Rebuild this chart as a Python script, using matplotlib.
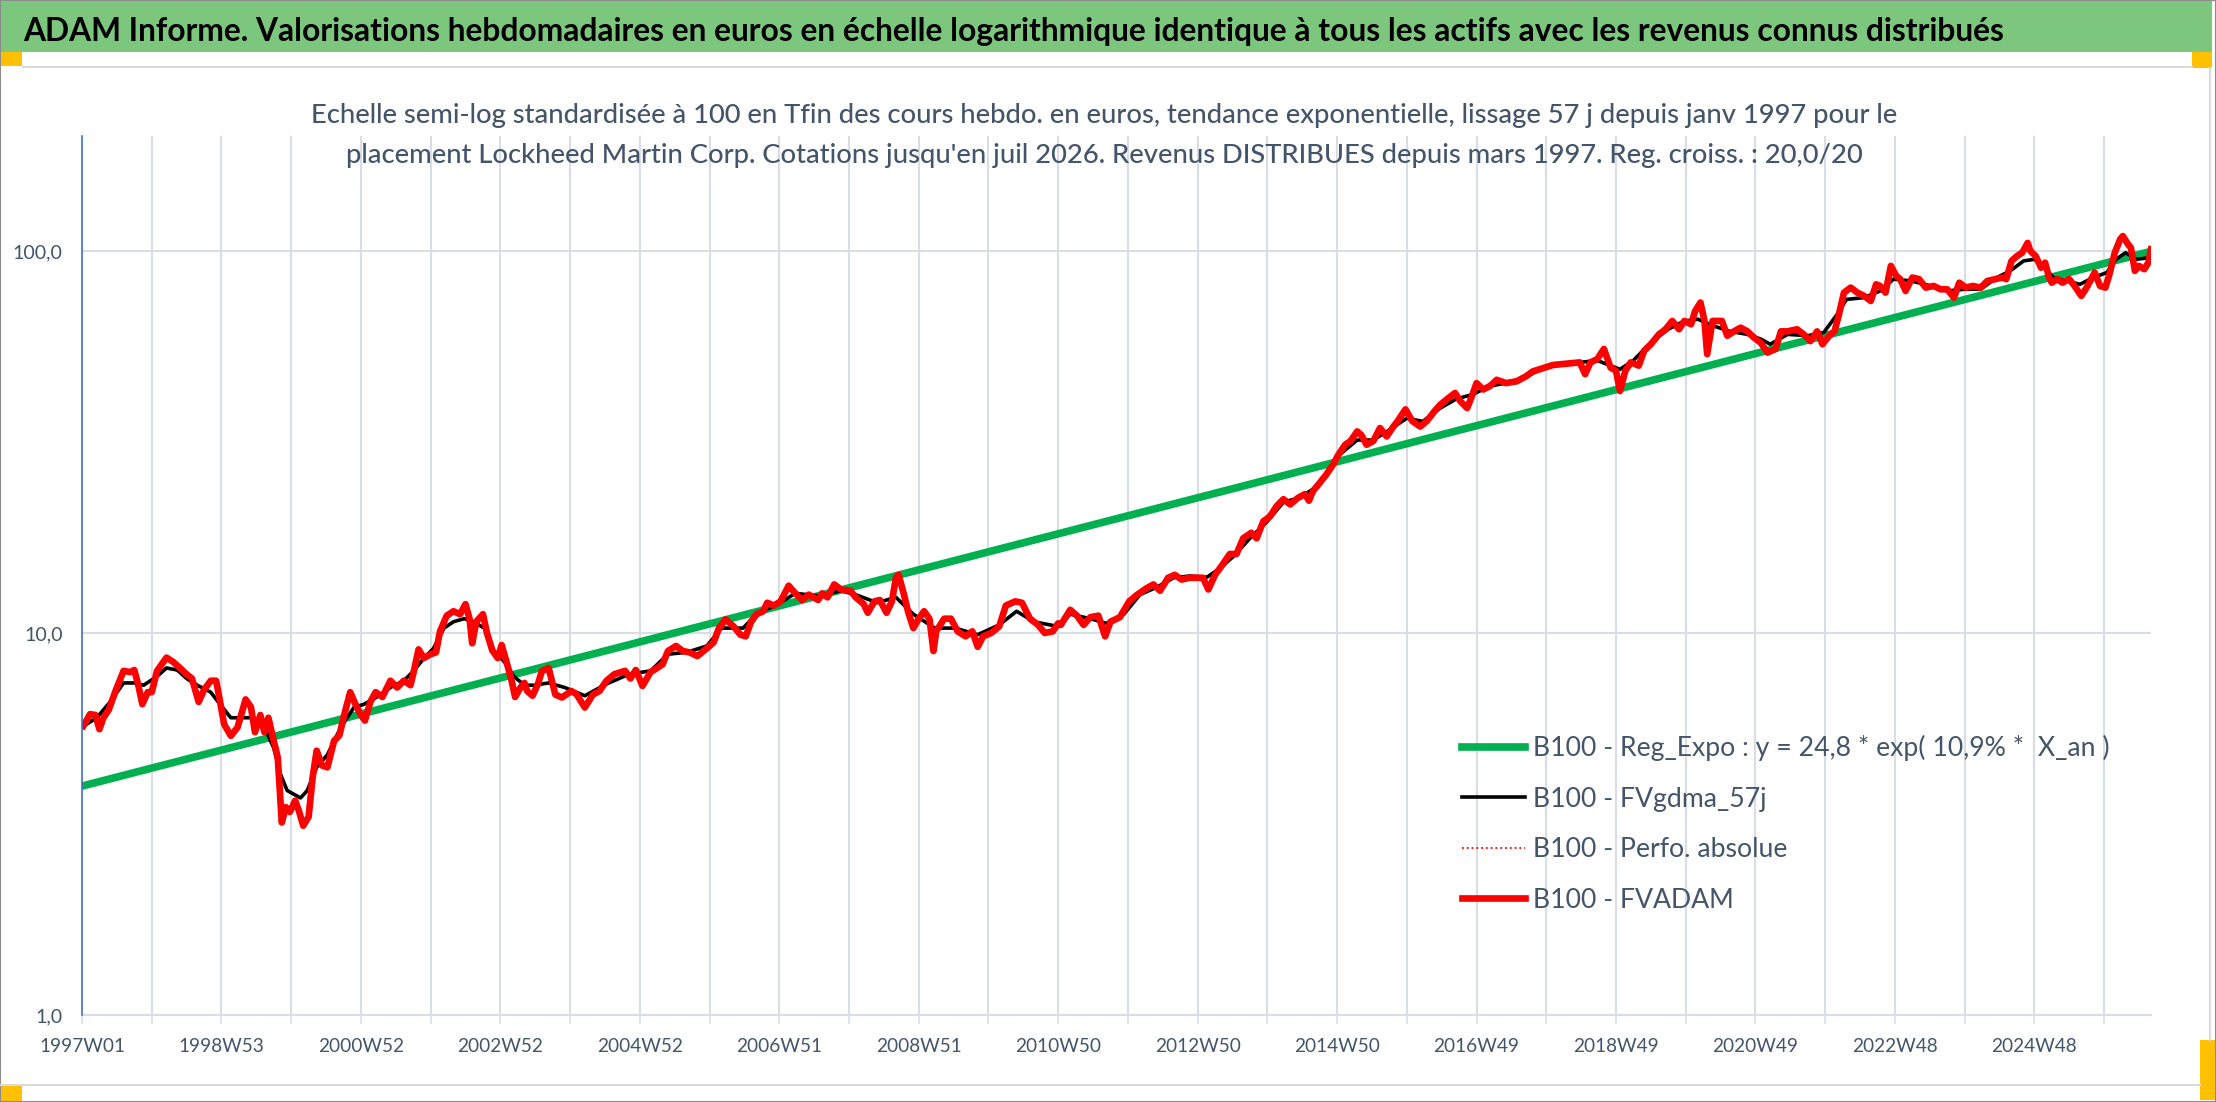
import numpy as np
import matplotlib
matplotlib.use("Agg")
import matplotlib.pyplot as plt
from matplotlib import font_manager
from matplotlib.patches import Rectangle
from matplotlib.lines import Line2D
from matplotlib.ticker import NullLocator

W, H = 2216, 1102

# values: week index from 1997W01, base 100 at the end
red_weeks = [1, 6, 10, 13, 16, 20, 25, 31, 36, 39, 42, 45, 49, 52, 56, 63, 68, 73, 78, 82,
             87, 91, 96, 100, 102, 106, 111, 116, 122, 126, 129, 133, 136, 139, 142, 146, 149, 152, 155, 159,
             162, 165, 169, 172, 175, 179, 183, 188, 192, 195, 200, 204, 208, 211, 215, 219, 224, 230, 235, 240,
             245, 248, 251, 255, 260, 264, 267, 272, 277, 282, 286, 289, 291, 294, 299, 302, 306, 310, 313, 317,
             320, 323, 327, 330, 332, 336, 340, 343, 348, 353, 358, 365, 369, 375, 381, 386, 391, 397, 405, 409,
             413, 418, 424, 429, 433, 437, 443, 448, 453, 459, 465, 471, 475, 480, 486, 491, 495, 499, 503, 508,
             511, 516, 521, 527, 532, 537, 542, 549, 552, 556, 561, 566, 573, 577, 583, 586, 591, 595, 600, 604,
             607, 609, 613, 616, 620, 624, 628, 632, 635, 637, 643, 648, 653, 659, 664, 668, 672, 678, 684, 689,
             696, 701, 707, 713, 718, 724, 728, 730, 737, 742, 747, 752, 758, 763, 767, 774, 781, 787, 794, 799,
             804, 810, 815, 820, 826, 832, 836, 840, 845, 850, 856, 861, 866, 872, 876, 881, 886, 891, 896, 901,
             907, 912, 915, 918, 923, 928, 933, 937, 942, 946, 951, 954, 958, 963, 968, 973, 978, 981, 987, 992,
             998, 1003, 1009, 1013, 1019, 1024, 1028, 1033, 1036, 1040, 1045, 1050, 1055, 1062, 1070, 1077, 1082, 1090, 1097, 1117,
             1121, 1125, 1130, 1135, 1140, 1144, 1147, 1151, 1155, 1161, 1165, 1170, 1176, 1181, 1186, 1191, 1195, 1200, 1203, 1207,
             1210, 1212, 1216, 1220, 1223, 1227, 1232, 1237, 1242, 1247, 1252, 1257, 1263, 1267, 1272, 1279, 1284, 1289, 1294, 1298,
             1303, 1307, 1310, 1314, 1319, 1324, 1329, 1334, 1338, 1341, 1345, 1349, 1353, 1356, 1360, 1365, 1370, 1375, 1381, 1386,
             1391, 1396, 1400, 1405, 1410, 1416, 1421, 1427, 1432, 1435, 1439, 1443, 1447, 1451, 1453, 1457, 1461, 1464, 1467, 1469,
             1473, 1477, 1482, 1486, 1491, 1495, 1501, 1505, 1509, 1512, 1516, 1520, 1522, 1526, 1528, 1531, 1534, 1538, 1541, 1543]
red_vals = [5.71, 6.13, 6.1, 5.6, 6.0, 6.3, 7.05, 7.96, 7.9, 8.0, 7.3, 6.51, 7.0, 7.0, 7.96, 8.62, 8.4, 8.1, 7.8, 7.6,
            6.6, 7.1, 7.5, 7.5, 6.9, 5.77, 5.38, 5.66, 6.7, 6.4, 5.5, 6.1, 5.5, 6.0, 5.4, 4.72, 3.19, 3.5, 3.4, 3.64,
            3.4, 3.13, 3.3, 4.19, 4.92, 4.5, 4.45, 5.22, 5.4, 6.0, 7.0, 6.5, 6.1, 5.9, 6.6, 7.0, 6.8, 7.5, 7.2, 7.5,
            7.3, 8.1, 9.06, 8.6, 8.8, 8.9, 10.1, 11.1, 11.4, 11.2, 11.9, 10.9, 9.4, 10.7, 11.2, 10.0, 9.0, 8.6, 9.3, 8.3,
            7.6, 6.8, 7.2, 7.4, 7.05, 6.85, 7.35, 7.95, 8.1, 6.9, 6.78, 7.05, 6.9, 6.38, 6.9, 7.05, 7.49, 7.8, 7.96, 7.6,
            8.0, 7.27, 7.9, 8.1, 8.28, 8.97, 9.25, 8.97, 8.9, 8.7, 9.06, 9.44, 10.3, 10.85, 10.4, 9.9, 9.8, 10.7, 11.2, 11.4,
            12.0, 11.8, 12.1, 13.3, 12.7, 12.2, 12.6, 12.2, 12.7, 12.4, 13.4, 13.0, 12.9, 12.4, 11.9, 11.3, 12.1, 12.2, 11.3, 12.1,
            13.95, 14.2, 12.6, 11.4, 10.3, 10.9, 11.4, 10.9, 8.97, 10.1, 10.9, 10.9, 10.1, 9.8, 10.1, 9.2, 9.8, 10.0, 10.4, 11.8,
            12.1, 12.0, 10.9, 10.5, 10.0, 10.1, 10.6, 10.5, 11.5, 11.1, 10.5, 11.0, 11.1, 9.8, 10.7, 11.0, 12.1, 12.6, 13.1, 13.4,
            12.9, 13.95, 14.2, 13.8, 13.95, 13.95, 13.95, 13.0, 14.2, 15.0, 16.1, 16.1, 17.7, 18.3, 17.7, 19.6, 20.2, 21.5, 22.4, 21.7,
            22.6, 23.1, 22.2, 23.5, 24.7, 26.0, 27.6, 29.3, 31.1, 31.8, 33.7, 33.0, 31.1, 31.8, 34.4, 32.7, 34.7, 35.8, 38.5, 35.9,
            34.7, 35.9, 38.2, 39.6, 41.2, 42.5, 40.4, 38.8, 41.2, 45.1, 43.4, 44.3, 46.0, 45.1, 45.6, 47.0, 48.4, 49.4, 50.3, 51.1,
            47.6, 51.1, 52.1, 55.4, 49.5, 48.6, 43.0, 48.6, 51.1, 50.1, 54.8, 57.0, 60.5, 62.4, 65.6, 62.4, 65.6, 64.3, 69.6, 73.3,
            65.6, 53.7, 65.6, 65.6, 65.6, 60.0, 61.6, 63.0, 61.6, 59.3, 57.5, 54.2, 55.4, 61.6, 61.6, 62.4, 60.5, 58.1, 61.6, 57.0,
            60.0, 61.6, 67.6, 77.8, 80.2, 77.8, 76.3, 74.0, 81.8, 81.0, 77.8, 91.4, 86.1, 84.4, 78.6, 85.2, 84.4, 80.2, 81.0, 79.4,
            79.4, 75.5, 82.6, 80.2, 81.0, 80.2, 83.5, 84.4, 85.2, 84.4, 94.2, 97.0, 99.0, 105.0, 100.0, 97.0, 90.4, 93.2, 85.2, 82.6,
            84.4, 82.6, 84.4, 81.0, 76.3, 80.2, 87.8, 81.0, 80.2, 86.9, 99.0, 107.3, 109.4, 104.0, 102.0, 88.7, 91.4, 89.6, 93.2, 101.0]

black_weeks = [1, 11, 21, 31, 39, 46, 56, 63, 71, 78, 86, 96, 103, 111, 118, 128, 136, 143, 148, 153,
               163, 168, 175, 183, 193, 203, 210, 220, 230, 240, 248, 255, 262, 270, 277, 285, 292, 300, 307, 315,
               322, 330, 337, 348, 360, 375, 391, 408, 424, 437, 451, 466, 477, 493, 503, 519, 532, 550, 566, 577,
               593, 607, 620, 636, 651, 668, 684, 697, 710, 728, 737, 752, 764, 777, 789, 802, 814, 826, 839, 849,
               859, 871, 884, 896, 908, 918, 928, 938, 951, 963, 975, 988, 1000, 1013, 1025, 1037, 1050, 1062, 1075, 1087,
               1097, 1117, 1130, 1140, 1147, 1157, 1170, 1183, 1195, 1205, 1217, 1229, 1242, 1252, 1259, 1272, 1287, 1299, 1309, 1316,
               1329, 1341, 1351, 1364, 1379, 1391, 1404, 1416, 1428, 1438, 1448, 1456, 1463, 1470, 1480, 1490, 1500, 1510, 1517, 1524,
               1532, 1542]
black_vals = [5.7, 6.0, 6.6, 7.4, 7.4, 7.3, 7.7, 8.1, 8.0, 7.6, 7.3, 7.0, 6.5, 6.0, 6.0, 6.0, 5.66, 5.0, 4.27, 3.87,
              3.7, 3.87, 4.45, 4.8, 5.66, 6.4, 6.5, 6.8, 7.2, 7.5, 8.0, 8.6, 9.1, 10.3, 10.7, 10.9, 10.7, 10.3, 9.0, 8.4,
              7.7, 7.3, 7.3, 7.4, 7.2, 6.85, 7.35, 7.8, 7.96, 8.8, 8.9, 9.25, 10.3, 10.3, 11.2, 11.9, 12.7, 12.5, 12.9, 12.6,
              12.0, 12.4, 11.2, 10.3, 10.3, 9.9, 10.5, 11.4, 10.7, 10.4, 11.2, 10.9, 10.6, 11.2, 12.6, 13.2, 13.95, 14.1, 14.0, 14.8,
              15.9, 17.7, 19.6, 22.0, 22.6, 23.8, 26.0, 29.3, 32.0, 32.0, 34.0, 36.5, 35.8, 38.8, 41.0, 42.1, 44.3, 45.1, 46.5, 48.8,
              50.0, 51.1, 51.7, 50.1, 49.0, 51.7, 57.6, 62.4, 65.6, 66.3, 63.6, 61.6, 60.5, 58.8, 57.0, 60.5, 60.0, 61.2, 68.3, 74.7,
              75.5, 78.6, 84.4, 83.5, 81.0, 78.6, 79.4, 79.4, 85.2, 88.7, 94.2, 95.1, 91.4, 85.2, 83.5, 81.8, 85.2, 87.8, 95.1, 99.0,
              95.1, 96.1]

n_weeks = 1544
# regression from the legend: y = 24,8 * exp(10,9% * X_an)
reg_a = 24.8
reg_b = 0.109
reg_x_start = -16.8   # X_an (years) at 1997W01

tick_labels = ["1997W01", "1998W53", "2000W52", "2002W52", "2004W52", "2006W51", "2008W51", "2010W50",
               "2012W50", "2014W50", "2016W49", "2018W49", "2020W49", "2022W48", "2024W48"]
y_ticks = [1, 10, 100]
y_tick_labels = ["1,0", "10,0", "100,0"]

title = ("ADAM Informe. Valorisations hebdomadaires en euros en échelle logarithmique identique "
         "à tous les actifs avec les revenus connus distribués")
sub1 = ("Echelle semi-log standardisée à 100 en Tfin des cours hebdo. en euros, tendance exponentielle, "
        "lissage 57 j depuis janv 1997 pour le")
sub2 = ("placement Lockheed Martin Corp. Cotations jusqu'en juil 2026. Revenus DISTRIBUES depuis mars 1997. "
        "Reg. croiss. : 20,0/20")
legend_labels = ["B100 - Reg_Expo : y = 24,8 * exp( 10,9% *  X_an )", "B100 - FVgdma_57j",
                 "B100 - Perfo. absolue", "B100 - FVADAM"]

textc = "#44546A"
gridc = "#D9DEE6"

names = {f.name for f in font_manager.fontManager.ttflist}
font = "Liberation Sans Narrow" if "Liberation Sans Narrow" in names else "Lato"
plt.rcParams["font.family"] = [font, "DejaVu Sans"]

fig = plt.figure(figsize=(W / 100, H / 100), dpi=100)
renderer = fig.canvas.get_renderer()


def fx(px):
    return px / W


def fy(py):
    return 1 - py / H


def size_for(s, width_px, **kw):
    # font size that makes s as wide as width_px
    t = fig.text(0, 0, s, fontsize=20, **kw)
    w = t.get_window_extent(renderer).width
    t.remove()
    return 20 * width_px / w


def rect(x0, y0, x1, y1, color):
    fig.add_artist(Rectangle((fx(x0), fy(y1)), fx(x1 - x0), (y1 - y0) / H,
                             transform=fig.transFigure, color=color, lw=0, zorder=0))


def hline(y, x0, x1, color, lw):
    fig.add_artist(Line2D([fx(x0), fx(x1)], [fy(y), fy(y)], transform=fig.transFigure, color=color, lw=lw))


def vline(x, y0, y1, color, lw):
    fig.add_artist(Line2D([fx(x), fx(x)], [fy(y0), fy(y1)], transform=fig.transFigure, color=color, lw=lw))


# frame, title bar and the orange handles
rect(0, 0, 2212, 52, "#7DC67D")
hline(67, 23, 2192, "#DADADA", 1.5)
hline(1085, 0, 2200, "#DADADA", 1.5)
vline(2210, 68, 1040, "#DADADA", 1.5)
rect(0, 52, 22, 66, "#FFC000")
rect(2192, 52, 2212, 68, "#FFC000")
rect(0, 1086, 22, 1102, "#FFC000")
rect(2200, 1040, 2216, 1100, "#FFC000")
fig.add_artist(Rectangle((0, 0), 1, 1, transform=fig.transFigure, fill=False, ec="#8C8C8C", lw=1.5))

fig.text(fx(1014), fy(41), title, ha="center", va="baseline", color="black", weight="bold",
         fontsize=size_for(title, 1990, weight="bold"))
fs_sub = size_for(sub1, 1590, weight="medium")
fig.text(fx(1104), fy(123), sub1, ha="center", va="baseline", color=textc, fontsize=fs_sub, weight="medium")
fig.text(fx(1104), fy(163), sub2, ha="center", va="baseline", color=textc, fontsize=fs_sub, weight="medium")

ax = fig.add_axes([fx(82), fy(1015), fx(2151 - 82), (1015 - 136) / H])
ax.set_yscale("log")
ax.set_ylim(1, 200)
ax.set_xlim(0, n_weeks - 1)

weeks = np.arange(n_weeks)
reg = reg_a * np.exp(reg_b * (reg_x_start + weeks / 52.18))
ax.plot(weeks, reg, color="#00B050", lw=5.5, zorder=2, label=legend_labels[0])
ax.plot(black_weeks, black_vals, color="black", lw=2.6, zorder=3, label=legend_labels[1])
ax.plot(red_weeks, red_vals, color="red", lw=1.3, ls=":", zorder=3.5, label=legend_labels[2])
ax.plot(red_weeks, red_vals, color="red", lw=4.8, zorder=4, solid_joinstyle="round", label=legend_labels[3])

# axes styling
grid_pos = list(range(0, n_weeks, 52))
ax.set_xticks(grid_pos)
ax.set_xticklabels([tick_labels[i // 2] if i % 2 == 0 else "" for i in range(len(grid_pos))])
ax.set_yticks(y_ticks)
ax.set_yticklabels(y_tick_labels)
ax.yaxis.set_minor_locator(NullLocator())
ax.grid(True, color=gridc, lw=1.5)
ax.set_axisbelow(True)
for s in ["top", "right"]:
    ax.spines[s].set_visible(False)
ax.spines["left"].set_color("#4472C4")
ax.spines["left"].set_linewidth(1.2)
ax.spines["left"].set_zorder(5)
ax.spines["bottom"].set_color(gridc)
ax.spines["bottom"].set_linewidth(1.5)

fs_x = size_for(tick_labels[0], 86)
fs_y = size_for(y_tick_labels[2], 50)
ax.tick_params(axis="x", length=6.5, width=1.1, color=gridc, direction="out", pad=10,
               labelsize=fs_x, labelcolor=textc)
ax.tick_params(axis="y", length=0, pad=14, labelsize=fs_y, labelcolor=textc)

# legend placed over the lower right of the plot, rows 50 px apart
leg_fs = size_for(legend_labels[0], 575)
em = leg_fs * 100 / 72
top, spacing = 733, 0.9
for _ in range(4):
    leg = ax.legend(loc="upper left", bbox_to_anchor=(fx(1462), fy(top)), bbox_transform=fig.transFigure,
                    frameon=False, fontsize=leg_fs, borderpad=0, borderaxespad=0,
                    handlelength=63 / em, handletextpad=8 / em, labelspacing=spacing, labelcolor=textc)
    fig.canvas.draw()
    h0 = leg.legend_handles[0].get_window_extent(renderer)
    h3 = leg.legend_handles[3].get_window_extent(renderer)
    c0 = H - (h0.y0 + h0.y1) / 2
    d = ((h0.y0 + h0.y1) / 2 - (h3.y0 + h3.y1) / 2) / 3
    spacing += (50.5 - d) / em
    top += 747 - c0

fig.savefig("out.png", dpi=100)
